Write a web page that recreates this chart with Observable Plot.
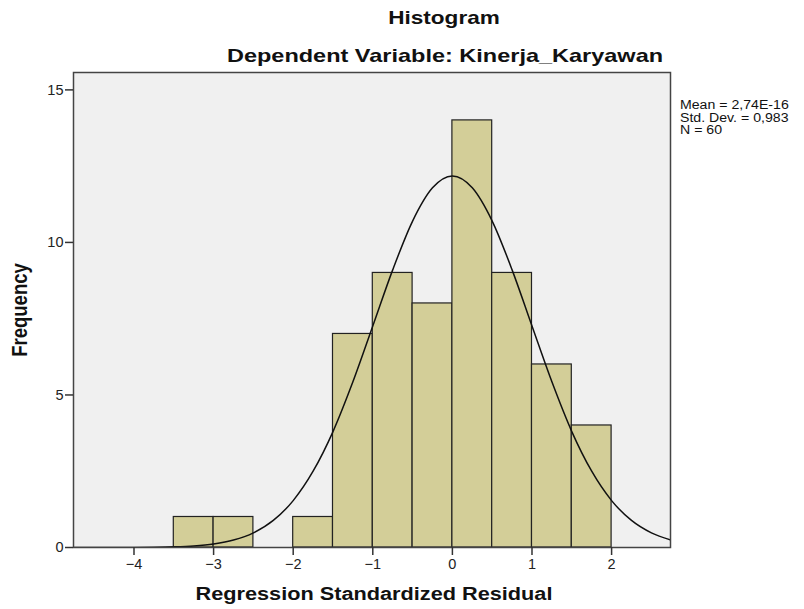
<!DOCTYPE html>
<html><head><meta charset="utf-8">
<script src="https://cdn.jsdelivr.net/npm/d3@7"></script>
<script src="https://cdn.jsdelivr.net/npm/@observablehq/plot@0.6"></script>
<style>
body{margin:0;background:#fff;font-family:"Liberation Sans",Arial,sans-serif;}
#wrap{position:relative;width:804px;height:609px;overflow:hidden;}
.t{position:absolute;font-weight:bold;color:#111;white-space:nowrap;line-height:1;}
#stats{position:absolute;left:680px;top:99px;font-size:12.5px;line-height:12.5px;color:#111;transform:scaleX(1.13);transform-origin:0 0;white-space:nowrap;}
</style></head>
<body><div id="wrap">
<div class="t" id="title" style="left:444px;top:9px;font-size:18.5px;transform:translateX(-50%) scaleX(1.22);">Histogram</div>
<div class="t" id="sub" style="left:445px;top:47px;font-size:18.5px;transform:translateX(-50%) scaleX(1.27);">Dependent Variable: Kinerja_Karyawan</div>
<div class="t" id="xlab" style="left:374px;top:586px;font-size:17.5px;transform:translateX(-50%) scaleX(1.24);">Regression Standardized Residual</div>
<div class="t" id="ylab" style="left:20px;top:310px;font-size:18.5px;transform:translate(-50%,-50%) rotate(-90deg) scaleY(1.2);">Frequency</div>
<div id="stats"></div>
</div>
<script>
const binStart = [-3.5, -3.0, -2.0, -1.5, -1.0, -0.5, 0.0, 0.5, 1.0, 1.5];
const binEnd   = [-3.0, -2.5, -1.5, -1.0, -0.5, 0.0, 0.5, 1.0, 1.5, 2.0];
const counts   = [1, 1, 1, 7, 9, 8, 14, 9, 6, 4];
const curveX = [-4.75,-4.5,-4.25,-4,-3.75,-3.5,-3.25,-3,-2.75,-2.5,-2.25,-2,-1.75,-1.5,-1.25,-1,-0.75,-0.5,-0.25,0,0.25,0.5,0.75,1,1.25,1.5,1.75,2,2.25,2.5,2.75];
const curveY = [0.0001,0.0003,0.001,0.003,0.008,0.022,0.052,0.116,0.243,0.48,0.887,1.537,2.50,3.80,5.43,7.26,9.10,10.70,11.79,12.18,11.79,10.70,9.10,7.26,5.43,3.80,2.50,1.537,0.887,0.48,0.243];
const xTicks = [-4, -3, -2, -1, 0, 1, 2];
const yTicks = [0, 5, 10, 15];
const statsLines = ["Mean = 2,74E-16", "Std. Dev. = 0,983", "N = 60"];

document.getElementById("stats").innerHTML = statsLines.join("<br>");

const bars = binStart.map((s, i) => ({x1: s, x2: binEnd[i], y: counts[i]}));
const curve = curveX.map((x, i) => ({x, y: curveY[i]}));

const chart = Plot.plot({
  width: 804, height: 609,
  marginLeft: 73, marginRight: 134, marginTop: 72, marginBottom: 62,
  style: {fontFamily: "'Liberation Sans', Arial, sans-serif", fontSize: "14px", color: "#222", background: "transparent"},
  x: {domain: [-4.76, 2.74], ticks: xTicks, tickFormat: d => String(d), label: null},
  y: {domain: [0, 15.57], ticks: yTicks, label: null},
  marks: [
    Plot.frame({fill: "#f0f0f0", stroke: "none"}),
    Plot.rectY(bars, {x1: "x1", x2: "x2", y: "y", fill: "#d3ce98", stroke: "#222", strokeWidth: 1.2}),
    Plot.line(curve, {x: "x", y: "y", stroke: "#111", strokeWidth: 1.5, curve: "monotone-x", clip: true}),
    Plot.frame({stroke: "#444", strokeWidth: 1.5}),
    Plot.axisX({ticks: xTicks, tickSize: 8, tickPadding: 3, stroke: "#333", strokeWidth: 1.5, fontSize: 14.5, label: null}),
    Plot.axisY({ticks: yTicks, tickSize: 8, tickPadding: 2, stroke: "#333", strokeWidth: 1.5, fontSize: 14.5, label: null})
  ]
});
chart.style.position = "absolute";
chart.style.left = "0";
chart.style.top = "0";
document.getElementById("wrap").prepend(chart);
</script>
</body></html>
